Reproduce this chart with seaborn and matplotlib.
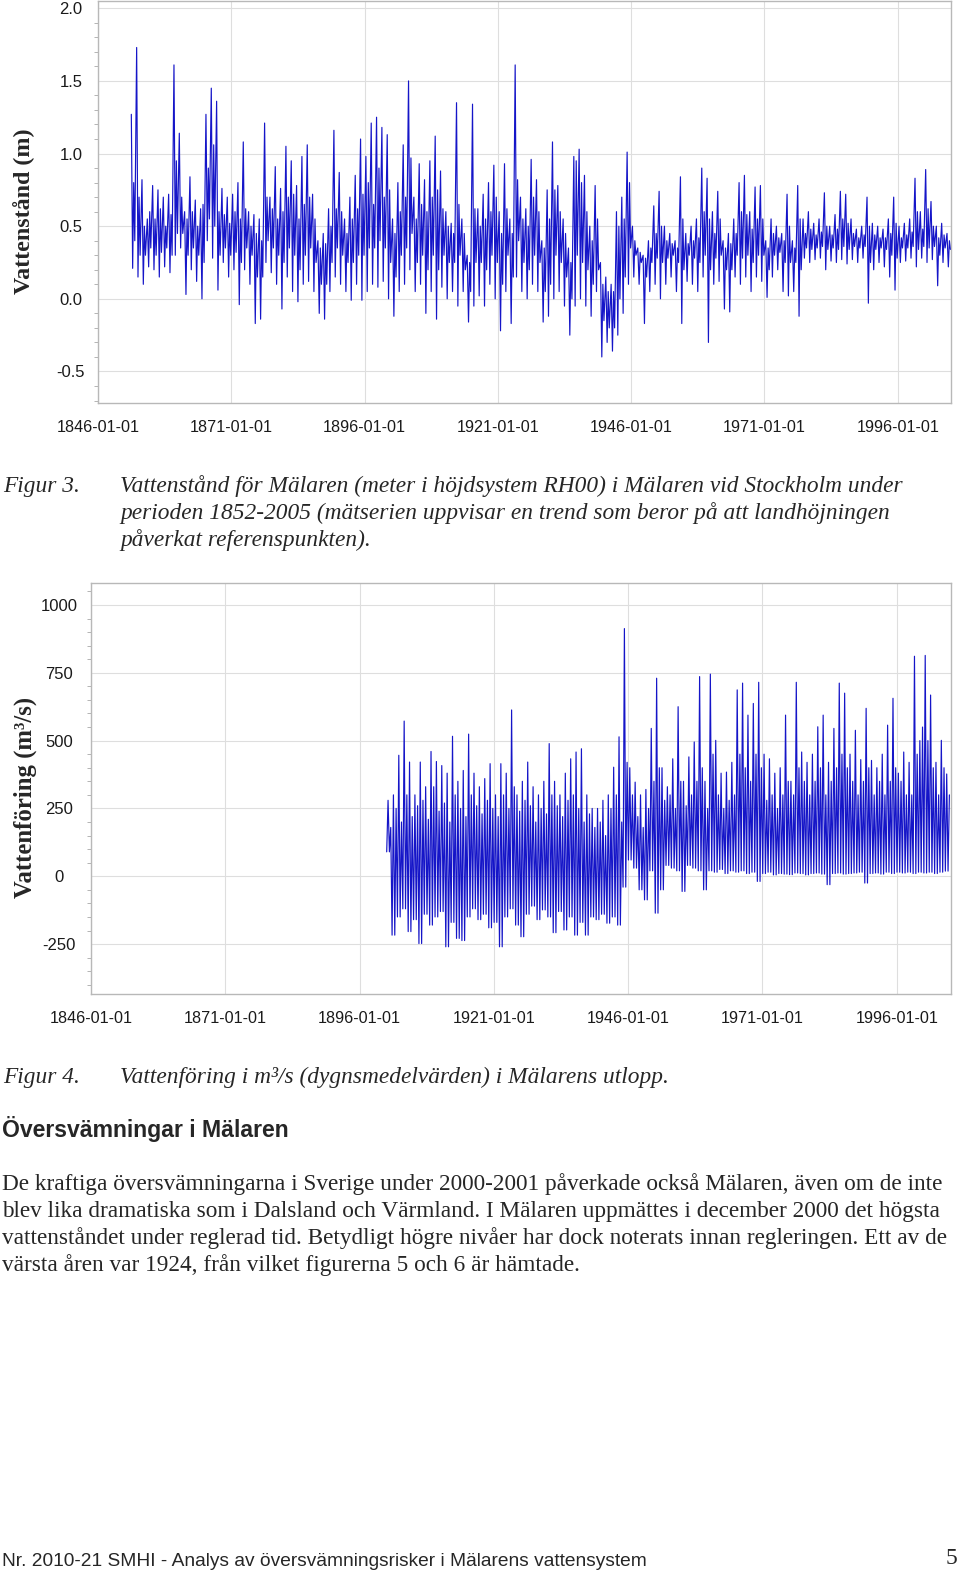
import matplotlib
matplotlib.use("Agg")
import matplotlib.pyplot as plt
from matplotlib.ticker import FixedLocator, MultipleLocator
import seaborn as sns
import pandas as pd

W, H = 960, 1572

# Figur 3: vattenstand (m) per year 1852-2005: main peak, low, second peak, second dip
level_start = 1852
level_high = [1.27, 1.73, 0.82, 0.55, 0.78, 0.75, 0.70, 0.72, 1.61, 1.14,
              0.60, 0.84, 0.68, 0.62, 1.27, 1.45, 1.36, 0.76, 0.70, 0.72,
              0.80, 1.08, 0.60, 0.58, 0.55, 1.21, 0.70, 0.91, 0.76, 1.05,
              0.95, 0.78, 0.98, 1.06, 0.72, 0.40, 0.45, 0.62, 1.16, 0.87,
              0.55, 0.70, 0.85, 1.10, 0.98, 1.21, 1.25, 1.18, 1.13, 0.55,
              0.80, 1.06, 1.50, 0.70, 0.93, 0.82, 0.95, 1.12, 0.88, 0.60,
              0.52, 1.35, 0.55, 0.30, 1.34, 0.62, 0.72, 0.80, 0.92, 0.60,
              0.93, 0.55, 1.61, 0.70, 0.62, 0.96, 0.82, 0.40, 0.75, 1.08,
              0.78, 0.55, 0.35, 0.98, 1.03, 0.85, 0.50, 0.78, 0.25, 0.15,
              0.10, 0.60, 0.70, 1.01, 0.50, 0.35, 0.30, 0.40, 0.64, 0.74,
              0.50, 0.45, 0.40, 0.84, 0.45, 0.50, 0.55, 0.90, 0.83, 0.60,
              0.74, 0.40, 0.45, 0.55, 0.80, 0.85, 0.60, 0.77, 0.78, 0.40,
              0.55, 0.50, 0.45, 0.72, 0.40, 0.78, 0.55, 0.60, 0.52, 0.55,
              0.73, 0.50, 0.58, 0.74, 0.72, 0.55, 0.48, 0.50, 0.70, 0.52,
              0.50, 0.48, 0.55, 0.70, 0.50, 0.52, 0.55, 0.83, 0.60, 0.89,
              0.67, 0.50, 0.52, 0.45]
level_low = [0.21, 0.15, 0.10, 0.22, 0.20, 0.15, 0.22, 0.18, 0.30, 0.35,
             0.03, 0.20, 0.12, 0.00, 0.40, 0.28, 0.06, 0.25, 0.15, 0.20,
             -0.04, 0.20, 0.10, -0.17, -0.14, 0.25, 0.18, 0.10, -0.07, 0.15,
             0.05, -0.02, 0.10, 0.12, 0.05, -0.10, -0.14, 0.05, 0.15, 0.10,
             0.05, -0.01, 0.10, -0.01, 0.05, 0.10, 0.08, 0.12, 0.00, -0.12,
             0.05, 0.10, 0.20, 0.05, 0.10, -0.10, 0.05, -0.14, 0.08, 0.00,
             0.05, -0.05, 0.05, -0.16, -0.05, 0.02, -0.05, 0.10, 0.00, -0.22,
             0.05, -0.17, 0.15, 0.05, 0.00, 0.10, 0.05, -0.16, -0.12, 0.00,
             0.05, -0.05, -0.25, -0.05, 0.00, -0.05, -0.12, 0.05, -0.40, -0.30,
             -0.36, -0.25, -0.10, 0.10, 0.15, 0.10, -0.17, 0.05, 0.10, 0.00,
             0.10, 0.15, 0.05, -0.17, 0.12, 0.10, 0.05, 0.15, -0.30, 0.10,
             0.12, -0.07, -0.09, 0.15, 0.10, 0.15, 0.05, 0.15, 0.12, 0.01,
             0.15, 0.20, 0.05, 0.02, 0.05, -0.12, 0.28, 0.25, 0.27, 0.28,
             0.20, 0.26, 0.25, 0.27, 0.24, 0.27, 0.25, 0.28, -0.03, 0.20,
             0.25, 0.22, 0.15, 0.06, 0.25, 0.26, 0.28, 0.22, 0.28, 0.25,
             0.27, 0.09, 0.25, 0.22]
level_mid = [0.80, 0.70, 0.50, 0.60, 0.55, 0.62, 0.50, 0.58, 0.95, 0.70,
             0.55, 0.60, 0.50, 0.65, 0.90, 1.06, 0.60, 0.58, 0.52, 0.60,
             0.55, 0.62, 0.50, 0.45, 0.40, 0.70, 0.62, 0.55, 0.60, 0.70,
             0.72, 0.55, 0.65, 0.70, 0.55, 0.35, 0.38, 0.50, 0.62, 0.60,
             0.45, 0.55, 0.62, 0.72, 0.80, 0.65, 0.90, 0.70, 0.75, 0.45,
             0.60, 0.70, 0.97, 0.55, 0.65, 0.60, 0.70, 0.75, 0.62, 0.50,
             0.45, 0.65, 0.45, 0.25, 0.62, 0.50, 0.55, 0.60, 0.70, 0.45,
             0.62, 0.45, 0.82, 0.55, 0.50, 0.70, 0.60, 0.35, 0.55, 0.75,
             0.60, 0.45, 0.25, 0.95, 0.80, 0.60, 0.40, 0.55, 0.10, 0.05,
             0.05, 0.50, 0.55, 0.80, 0.40, 0.32, 0.28, 0.35, 0.45, 0.50,
             0.40, 0.38, 0.35, 0.55, 0.38, 0.40, 0.42, 0.60, 0.55, 0.45,
             0.55, 0.35, 0.38, 0.45, 0.60, 0.58, 0.48, 0.55, 0.55, 0.35,
             0.45, 0.42, 0.40, 0.50, 0.35, 0.55, 0.45, 0.48, 0.44, 0.46,
             0.50, 0.44, 0.48, 0.55, 0.52, 0.45, 0.42, 0.44, 0.50, 0.44,
             0.42, 0.42, 0.45, 0.52, 0.42, 0.44, 0.46, 0.60, 0.48, 0.62,
             0.50, 0.42, 0.44, 0.40]
level_dip = [0.40, 0.30, 0.30, 0.35, 0.30, 0.32, 0.35, 0.30, 0.45, 0.45,
             0.30, 0.35, 0.30, 0.25, 0.55, 0.50, 0.30, 0.35, 0.30, 0.32,
             0.25, 0.35, 0.30, 0.15, 0.15, 0.40, 0.35, 0.30, 0.25, 0.35,
             0.30, 0.20, 0.30, 0.35, 0.25, 0.10, 0.10, 0.25, 0.35, 0.30,
             0.25, 0.25, 0.30, 0.30, 0.35, 0.35, 0.40, 0.35, 0.25, 0.15,
             0.30, 0.35, 0.45, 0.25, 0.30, 0.20, 0.30, 0.20, 0.30, 0.25,
             0.25, 0.30, 0.20, 0.05, 0.25, 0.25, 0.20, 0.30, 0.25, 0.10,
             0.30, 0.15, 0.40, 0.25, 0.20, 0.30, 0.25, 0.05, 0.10, 0.30,
             0.25, 0.15, 0.00, 0.30, 0.25, 0.20, 0.10, 0.20, -0.15, -0.20,
             -0.20, 0.00, 0.15, 0.35, 0.30, 0.25, 0.15, 0.25, 0.28, 0.25,
             0.28, 0.30, 0.25, 0.20, 0.30, 0.28, 0.25, 0.30, 0.20, 0.28,
             0.30, 0.20, 0.20, 0.30, 0.28, 0.30, 0.25, 0.30, 0.30, 0.20,
             0.30, 0.32, 0.25, 0.25, 0.25, 0.20, 0.35, 0.34, 0.35, 0.36,
             0.34, 0.35, 0.34, 0.36, 0.34, 0.36, 0.35, 0.36, 0.25, 0.34,
             0.35, 0.34, 0.30, 0.28, 0.35, 0.35, 0.36, 0.34, 0.36, 0.35,
             0.36, 0.30, 0.35, 0.34]

# Figur 4: vattenforing (m3/s) per year 1901-2005: low, main peak, second peak
flow_start = 1901
flow_high = [280, 300, 446, 572, 421, 300, 421, 330, 460, 423,
             408, 380, 516, 350, 390, 524, 380, 330, 360, 415,
             300, 415, 380, 613, 300, 350, 421, 330, 300, 350,
             489, 350, 300, 380, 433, 458, 470, 300, 250, 250,
             280, 300, 402, 514, 913, 400, 347, 300, 320, 545,
             730, 400, 330, 433, 625, 350, 440, 495, 736, 350,
             745, 501, 380, 384, 420, 687, 712, 594, 637, 715,
             450, 433, 380, 400, 594, 350, 715, 458, 420, 450,
             551, 594, 420, 545, 712, 675, 450, 538, 430, 619,
             427, 400, 450, 557, 656, 380, 458, 420, 811, 500,
             814, 668, 420, 501, 377]
flow_mid = [180, 250, 200, 300, 220, 260, 280, 210, 330, 240,
            270, 200, 300, 250, 220, 300, 260, 230, 280, 250,
            220, 300, 250, 330, 240, 280, 260, 200, 250, 230,
            300, 260, 220, 280, 300, 250, 200, 230, 180, 200,
            150, 250, 300, 200, 420, 300, 220, 180, 250, 350,
            400, 280, 300, 250, 350, 260, 300, 350, 400, 250,
            450, 300, 250, 280, 300, 450, 400, 350, 450, 400,
            280, 300, 250, 300, 350, 300, 400, 350, 300, 350,
            400, 300, 350, 400, 450, 400, 350, 300, 350, 400,
            300, 350, 300, 350, 400, 350, 300, 300, 450, 550,
            500, 400, 300, 400, 300]
flow_low = [90, -217, -150, -120, -204, -160, -248, -140, -180, -150,
            -130, -260, -170, -229, -237, -150, -120, -160, -140, -190,
            -170, -260, -150, -120, -180, -223, -140, -110, -160, -124,
            -150, -208, -130, -198, -150, -217, -170, -217, -150, -160,
            -140, -173, -150, -180, -40, 60, 30, -50, -87, 20,
            -136, -50, 40, 30, 20, -56, 40, 30, 20, -50,
            20, 15, 25, 10, 20, 15, 20, 10, 15, -19,
            10, 15, 5, 10, 8, 6, 12, 10, 5, 10,
            12, 8, -31, 10, 12, 8, 10, 12, 15, -25,
            10, 12, 8, 15, 10, 15, 12, 15, 10, 15,
            12, 15, 10, 15, 19]

date_ticks = [1846, 1871, 1896, 1921, 1946, 1971, 1996]
date_labels = ["1846-01-01", "1871-01-01", "1896-01-01", "1921-01-01",
               "1946-01-01", "1971-01-01", "1996-01-01"]
level_ticks = [-0.5, 0.0, 0.5, 1.0, 1.5, 2.0]
level_labels = ["-0.5", "0.0", "0.5", "1.0", "1.5", "2.0"]
flow_ticks = [-250, 0, 250, 500, 750, 1000]
flow_labels = ["-250", "0", "250", "500", "750", "1000"]

caption3 = ["Vattenstånd för Mälaren (meter i höjdsystem RH00) i Mälaren vid Stockholm under",
            "perioden 1852-2005 (mätserien uppvisar en trend som beror på att landhöjningen",
            "påverkat referenspunkten)."]
caption4 = "Vattenföring i m³/s (dygnsmedelvärden) i Mälarens utlopp."
heading = "Översvämningar i Mälaren"
body = ["De kraftiga översvämningarna i Sverige under 2000-2001 påverkade också Mälaren, även om de inte",
        "blev lika dramatiska som i Dalsland och Värmland. I Mälaren uppmättes i december 2000 det högsta",
        "vattenståndet under reglerad tid. Betydligt högre nivåer har dock noterats innan regleringen. Ett av de",
        "värsta åren var 1924, från vilket figurerna 5 och 6 är hämtade."]
footer = "Nr. 2010-21 SMHI - Analys av översvämningsrisker i Mälarens vattensystem"

sns.set_style("white")
plt.rcParams["font.family"] = ["Liberation Sans", "DejaVu Sans"]

# long-form tables
rows = []
for i, (hi, lo, mid, dip) in enumerate(zip(level_high, level_low, level_mid, level_dip)):
    yr = level_start + i
    rows += [(yr + 0.25, hi), (yr + 0.5, lo), (yr + 0.7, mid), (yr + 0.9, dip)]
level_df = pd.DataFrame(rows, columns=["year", "value"])

rows = []
for i, (lo, hi, mid) in enumerate(zip(flow_low, flow_high, flow_mid)):
    yr = flow_start + i
    rows += [(yr + 0.05, lo), (yr + 0.3, hi), (yr + 0.55, lo), (yr + 0.8, mid)]
flow_df = pd.DataFrame(rows, columns=["year", "value"])

fig = plt.figure(figsize=(W / 100, H / 100), dpi=100)


def axes_px(left, top, right, bottom):
    return fig.add_axes([left / W, 1 - bottom / H, (right - left) / W, (bottom - top) / H])


blue = "#1515c8"


def style(ax, xmax, ylim, ticks, labels, minor, ylab_pad):
    ax.set_xlim(1846, xmax)
    ax.set_ylim(*ylim)
    ax.xaxis.set_major_locator(FixedLocator(date_ticks))
    ax.set_xticklabels(date_labels)
    ax.yaxis.set_major_locator(FixedLocator(ticks))
    ax.set_yticklabels(labels, ha="center")
    ax.yaxis.set_minor_locator(MultipleLocator(minor))
    ax.grid(True, which="major", color="#dedede", linewidth=0.8)
    ax.set_axisbelow(True)
    for s in ax.spines.values():
        s.set_color("#b8b8b8")
        s.set_linewidth(1.0)
    ax.tick_params(axis="x", which="major", length=4.5, width=0.8, color="#909090",
                   labelsize=11.6, labelcolor="#1a1a1a", pad=7.5)
    ax.tick_params(axis="y", which="major", length=5.5, width=0.8, color="#909090",
                   labelsize=12, labelcolor="#1a1a1a", pad=ylab_pad)
    ax.tick_params(axis="y", which="minor", length=3, width=0.6, color="#a8a8a8", left=True)
    ax.set_xlabel("")
    ax.set_ylabel("")


ax1 = axes_px(98, 1, 951, 403)
sns.lineplot(data=level_df, x="year", y="value", ax=ax1, color=blue, linewidth=0.85,
             estimator=None, sort=False)
style(ax1, 2006.0, (-0.717, 2.05), level_ticks, level_labels, 0.1, 14)

ax2 = axes_px(91, 583, 951, 994)
sns.lineplot(data=flow_df, x="year", y="value", ax=ax2, color=blue, linewidth=0.85,
             estimator=None, sort=False)
style(ax2, 2006.1, (-434, 1081), flow_ticks, flow_labels, 50, 17.5)

fig.canvas.draw()
renderer = fig.canvas.get_renderer()


def fit(x, y, s, length, vertical=False, **kw):
    t = fig.text(x / W, 1 - y / H, s, **kw)
    bb = t.get_window_extent(renderer)
    cur = bb.height if vertical else bb.width
    t.set_fontsize(t.get_fontsize() * length / cur)
    return t


serif = ["Liberation Serif", "DejaVu Serif"]

# y-axis titles
fit(24.5, 211, "Vattenstånd (m)", 166, vertical=True, rotation=90, ha="center", va="center",
    family=serif, weight="bold", fontsize=17)
fit(25, 797, "Vattenföring (m³/s)", 202, vertical=True, rotation=90, ha="center", va="center",
    family=serif, weight="bold", fontsize=17,
    bbox=dict(facecolor="white", edgecolor="none", pad=7))

# caption Figur 3
cap = fit(120, 492, caption3[0], 783, family=serif, style="italic", va="baseline", fontsize=14)
cap_size = cap.get_fontsize()
for line, b in zip(caption3[1:], [519, 546]):
    fig.text(120 / W, 1 - b / H, line, family=serif, style="italic", va="baseline", fontsize=cap_size)
fig.text(3 / W, 1 - 492 / H, "Figur 3.", family=serif, style="italic", va="baseline", fontsize=cap_size)

# caption Figur 4
fig.text(3 / W, 1 - 1083 / H, "Figur 4.", family=serif, style="italic", va="baseline", fontsize=cap_size)
fig.text(120 / W, 1 - 1083 / H, caption4, family=serif, style="italic", va="baseline", fontsize=cap_size)

# heading and body
fit(2, 1137, heading, 289, weight="bold", va="baseline", fontsize=15)
b0 = fit(2, 1190, body[0], 944, family=serif, va="baseline", fontsize=14)
for line, b in zip(body[1:], [1217, 1244, 1271]):
    fig.text(2 / W, 1 - b / H, line, family=serif, va="baseline", fontsize=b0.get_fontsize())

# footer
fit(2, 1566, footer, 642, va="baseline", fontsize=13)
fig.text(957 / W, 1 - 1564 / H, "5", family=serif, ha="right", va="baseline", fontsize=17)

fig.savefig("out.png", dpi=100)
